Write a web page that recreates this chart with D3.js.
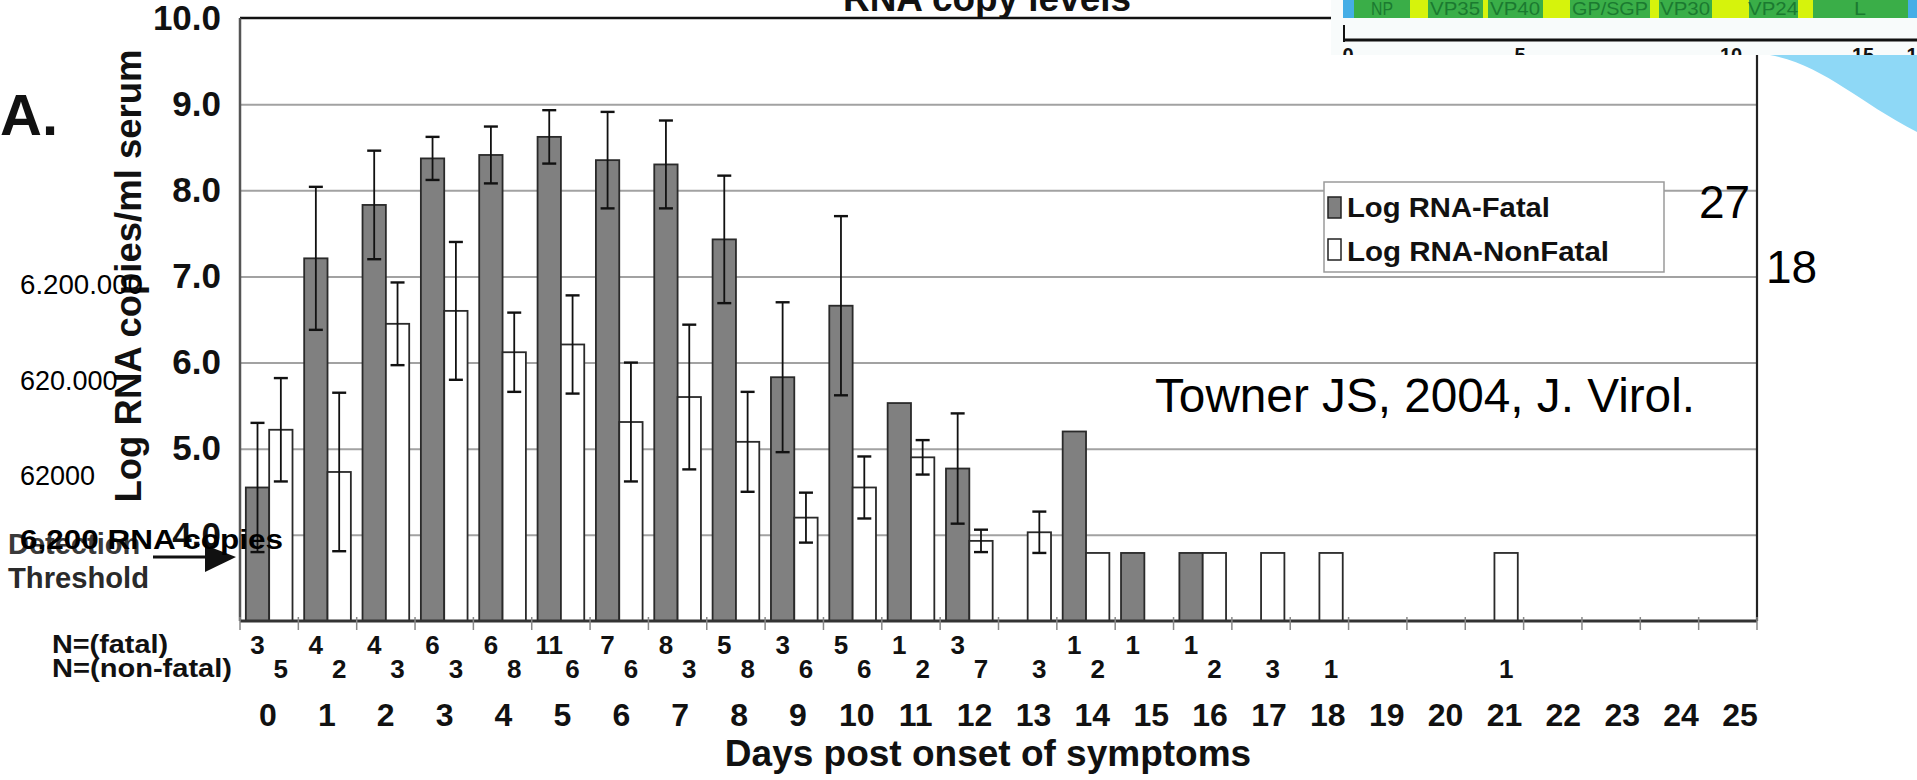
<!DOCTYPE html>
<html><head><meta charset="utf-8">
<script src="https://cdn.jsdelivr.net/npm/d3@7/dist/d3.min.js"></script>
<style>
html,body{margin:0;padding:0;background:#fff;}
svg{display:block;font-family:"Liberation Sans",Arial,Helvetica,sans-serif;}
</style>
</head><body>
<svg id="chart" width="1917" height="780"></svg>
<script>
// ---------------- data ----------------
const days = ["0","1","2","3","4","5","6","7","8","9","10","11","12","13","14","15","16","17","18","19","20","21","22","23","24","25"];
const fatalMean    = [4.55,7.21,7.83,8.37,8.41,8.62,8.35,8.30,7.43,5.83,6.66,5.53,4.77,null,5.20,3.79,3.79,null,null,null,null,null,null,null,null,null];
const fatalErr     = [0.75,0.83,0.63,0.25,0.33,0.31,0.56,0.51,0.74,0.87,1.04,0,0.64,0,0,0,0,0,0,0,0,0,0,0,0,0];
const nonFatalMean = [5.22,4.73,6.45,6.60,6.12,6.21,5.31,5.60,5.08,4.20,4.55,4.90,3.93,4.03,3.79,null,3.79,3.79,3.79,null,null,3.79,null,null,null,null];
const nonFatalErr  = [0.60,0.92,0.48,0.80,0.46,0.57,0.69,0.84,0.58,0.29,0.36,0.20,0.13,0.24,0,0,0,0,0,0,0,0,0,0,0,0];
const fatalN    = ["3","4","4","6","6","11","7","8","5","3","5","1","3","","1","1","1","","","","","","","","",""];
const nonFatalN = ["5","2","3","3","8","6","6","3","8","6","6","2","7","3","2","","2","3","1","","","1","","","",""];
const yTickValues = [4,5,6,7,8,9,10];
const gridValues  = [4,5,6,7,8,9];
const seriesNames = ["Log RNA-Fatal","Log RNA-NonFatal"];
const genes = ["NP","VP35","VP40","GP/SGP","VP30","VP24","L"];
const genomeTicks = ["0","5","10","15","1"];

// ---------------- setup ----------------
const svg = d3.select("#chart");
const pLeft = 240, pRight = 1757, pTop = 18, pBottom = 621;
const x = d3.scaleBand().domain(days).range([pLeft, pRight]).paddingInner(0.2).paddingOuter(0.1);
const xs = d3.scaleBand().domain(["fatal","nonfatal"]).range([0, x.bandwidth()]);
const y = d3.scaleLinear().domain([3,10]).range([pBottom, pTop]);
const xLab = d3.scalePoint().domain(days).range([268, 1740]);
const step = x.step();

const fatalColor = "#808080";

// gridlines
svg.append("g")
  .attr("transform", `translate(${pLeft},0)`)
  .call(d3.axisLeft(y).tickValues(gridValues).tickSize(-(pRight-pLeft)).tickFormat(""))
  .call(g => g.select(".domain").remove())
  .call(g => g.selectAll("line").attr("stroke","#a2a2a2").attr("stroke-width",2));

// bars
const bars = svg.append("g");
days.forEach((d,i) => {
  const recs = [
    {k:"fatal", v:fatalMean[i], fill:fatalColor},
    {k:"nonfatal", v:nonFatalMean[i], fill:"#ffffff"}
  ];
  recs.forEach(r => {
    if (r.v === null) return;
    bars.append("rect")
      .attr("x", x(d) + xs(r.k))
      .attr("y", y(r.v))
      .attr("width", xs.bandwidth())
      .attr("height", y(3) - y(r.v))
      .attr("fill", r.fill)
      .attr("stroke", "#2a2a2a")
      .attr("stroke-width", 1.8);
  });
});

// error bars
const eb = svg.append("g").attr("stroke","#111").attr("stroke-width",1.8);
days.forEach((d,i) => {
  [["fatal",fatalMean[i],fatalErr[i]],["nonfatal",nonFatalMean[i],nonFatalErr[i]]].forEach(([k,m,e]) => {
    if (m === null || !e) return;
    const cx = x(d) + xs(k) + xs.bandwidth()/2;
    const y1 = y(m+e), y2 = y(m-e);
    eb.append("line").attr("x1",cx).attr("x2",cx).attr("y1",y1).attr("y2",y2);
    eb.append("line").attr("x1",cx-7).attr("x2",cx+7).attr("y1",y1).attr("y2",y1).attr("stroke-width",2.4);
    eb.append("line").attr("x1",cx-7).attr("x2",cx+7).attr("y1",y2).attr("y2",y2).attr("stroke-width",2.4);
  });
});

// frame
svg.append("line").attr("x1",pLeft).attr("x2",pRight).attr("y1",y(10)).attr("y2",y(10)).attr("stroke","#111").attr("stroke-width",2.5);
svg.append("line").attr("x1",pRight).attr("x2",pRight).attr("y1",y(10)).attr("y2",pBottom).attr("stroke","#222").attr("stroke-width",2.2);
svg.append("line").attr("x1",pLeft).attr("x2",pLeft).attr("y1",y(10)).attr("y2",pBottom).attr("stroke","#555").attr("stroke-width",2.5);
svg.append("line").attr("x1",pLeft).attr("x2",pRight).attr("y1",pBottom).attr("y2",pBottom).attr("stroke","#333").attr("stroke-width",3);

// x tick marks at category boundaries
const bounds = days.map(d => x(d) - step*0.1).concat([x(days[days.length-1]) + x.bandwidth() + step*0.1]);
svg.append("g").selectAll("line").data(bounds).join("line")
  .attr("x1",b=>b).attr("x2",b=>b).attr("y1",pBottom-4).attr("y2",pBottom+9)
  .attr("stroke","#888").attr("stroke-width",1.5);

// y tick labels
svg.append("g")
  .attr("transform", `translate(${pLeft},0)`)
  .call(d3.axisLeft(y).tickValues(yTickValues).tickSize(0).tickPadding(19).tickFormat(d3.format(".1f")))
  .call(g => g.select(".domain").remove())
  .call(g => g.selectAll("text").attr("font-size",35).attr("font-weight","bold").attr("fill","#111")
        .attr("font-family","'Liberation Sans',Arial,sans-serif"));

// y axis title
svg.append("text")
  .attr("transform","translate(141,276) rotate(-90)")
  .attr("text-anchor","middle")
  .attr("font-size",37).attr("font-weight","bold").attr("fill","#111")
  .attr("textLength",453).attr("lengthAdjust","spacingAndGlyphs")
  .text("Log RNA copies/ml serum");

// "A."
svg.append("text").attr("x",0).attr("y",135).attr("font-size",58).attr("font-weight","bold").attr("fill","#111").text("A.");

// Day labels
svg.append("g").selectAll("text").data(days).join("text")
  .attr("x", d => xLab(d)).attr("y", 726)
  .attr("text-anchor","middle").attr("font-size",32).attr("font-weight","bold").attr("fill","#111")
  .text(d => d);

// N labels
svg.append("g").selectAll("text").data(days).join("text")
  .attr("x", d => x(d) + xs("fatal") + xs.bandwidth()/2).attr("y", 654)
  .attr("text-anchor","middle").attr("font-size",26).attr("font-weight","bold").attr("fill","#111")
  .text((d,i) => fatalN[i]);
svg.append("g").selectAll("text").data(days).join("text")
  .attr("x", d => x(d) + xs("nonfatal") + xs.bandwidth()/2).attr("y", 678)
  .attr("text-anchor","middle").attr("font-size",26).attr("font-weight","bold").attr("fill","#111")
  .text((d,i) => nonFatalN[i]);
svg.append("text").attr("x",52).attr("y",653).attr("font-size",26).attr("font-weight","bold").attr("fill","#111")
  .attr("textLength",116).attr("lengthAdjust","spacingAndGlyphs").text("N=(fatal)");
svg.append("text").attr("x",52).attr("y",677).attr("font-size",26).attr("font-weight","bold").attr("fill","#111")
  .attr("textLength",180).attr("lengthAdjust","spacingAndGlyphs").text("N=(non-fatal)");

// x axis title
svg.append("text").attr("x",988).attr("y",766).attr("text-anchor","middle")
  .attr("font-size",37).attr("font-weight","bold").attr("fill","#111").text("Days post onset of symptoms");

// legend
const lg = svg.append("g");
lg.append("rect").attr("x",1324).attr("y",182).attr("width",340).attr("height",90)
  .attr("fill","#fff").attr("stroke","#9a9a9a").attr("stroke-width",1.5);
const legFills = [fatalColor, "#ffffff"];
seriesNames.forEach((s,i) => {
  lg.append("rect").attr("x",1328).attr("y",197 + i*42).attr("width",13).attr("height",21)
    .attr("fill",legFills[i]).attr("stroke","#222").attr("stroke-width",1.5);
  lg.append("text").attr("x",1347).attr("y",217 + i*44).attr("font-size",28).attr("font-weight","bold").attr("fill","#111")
    .attr("textLength", i===0 ? 203 : 262).attr("lengthAdjust","spacingAndGlyphs").text(s);
});

// overlay annotations
svg.append("text").attr("x",1699).attr("y",218).attr("font-size",46).attr("fill","#000").text("27");
svg.append("text").attr("x",1766).attr("y",283).attr("font-size",46).attr("fill","#000").text("18");
svg.append("text").attr("x",1155).attr("y",412).attr("font-size",48).attr("fill","#000")
  .attr("textLength",540).attr("lengthAdjust","spacingAndGlyphs").text("Towner JS, 2004, J. Virol.");
svg.append("text").attr("x",20).attr("y",294).attr("font-size",27).attr("fill","#000")
  .attr("textLength",123).attr("lengthAdjust","spacingAndGlyphs").text("6.200.000");
svg.append("text").attr("x",20).attr("y",390).attr("font-size",27).attr("fill","#000").text("620.000");
svg.append("text").attr("x",20).attr("y",485).attr("font-size",27).attr("fill","#000").text("62000");

// detection threshold
svg.append("text").attr("x",8).attr("y",554).attr("font-size",29).attr("font-weight","bold").attr("fill","#3a3a3a").text("Detection");
svg.append("text").attr("x",8).attr("y",588).attr("font-size",29).attr("font-weight","bold").attr("fill","#2a2a2a")
  .attr("textLength",141).attr("lengthAdjust","spacingAndGlyphs").text("Threshold");
svg.append("line").attr("x1",153).attr("x2",212).attr("y1",557).attr("y2",557).attr("stroke","#111").attr("stroke-width",3);
svg.append("path").attr("d","M205,545 L236,557 L205,572 Z").attr("fill","#111");
svg.append("text").attr("x",20).attr("y",549).attr("font-size",28).attr("font-weight","bold").attr("fill","#000")
  .attr("textLength",263).attr("lengthAdjust","spacingAndGlyphs").text("6,200 RNA copies");

// top cut-off title
svg.append("text").attr("x",843).attr("y",11).attr("font-size",37).attr("font-weight","bold").attr("fill","#111")
  .attr("textLength",288).attr("lengthAdjust","spacingAndGlyphs").text("RNA copy levels");

// genome inset (top right)
const defs = svg.append("defs");
defs.append("clipPath").attr("id","insetClip").append("rect").attr("x",1331).attr("y",0).attr("width",586).attr("height",55);
const ins = svg.append("g").attr("clip-path","url(#insetClip)");
ins.append("rect").attr("x",1331).attr("y",0).attr("width",586).attr("height",55).attr("fill","#f8fbfb");
const segs = [
  [1343,1354,"#45aee6"],[1354,1410,"#3aae48"],[1410,1428,"#d6f30c"],[1428,1483,"#3aae48"],
  [1483,1488,"#d6f30c"],[1488,1543,"#3aae48"],[1543,1570,"#d6f30c"],[1570,1650,"#3aae48"],
  [1650,1659,"#d6f30c"],[1659,1712,"#3aae48"],[1712,1749,"#d6f30c"],[1749,1798,"#3aae48"],
  [1798,1813,"#d6f30c"],[1813,1908,"#3aae48"],[1908,1917,"#45aee6"]
];
segs.forEach(s => ins.append("rect").attr("x",s[0]).attr("y",0).attr("width",s[1]-s[0]).attr("height",18).attr("fill",s[2]));
const geneX = [1382,1455,1515,1610,1685,1773,1860];
const geneW = [22,50,50,76,50,50,12];
genes.forEach((g,i) => ins.append("text").attr("x",geneX[i]).attr("y",15).attr("text-anchor","middle")
  .attr("font-size",19).attr("fill","#1b7a30")
  .attr("textLength",geneW[i]).attr("lengthAdjust","spacingAndGlyphs").text(g));
ins.append("line").attr("x1",1343).attr("x2",1917).attr("y1",40).attr("y2",40).attr("stroke","#111").attr("stroke-width",3);
ins.append("line").attr("x1",1344).attr("x2",1344).attr("y1",25).attr("y2",42).attr("stroke","#111").attr("stroke-width",2);
const gtX = [1348,1520,1731,1863,1912];
genomeTicks.forEach((t,i) => ins.append("text").attr("x",gtX[i]).attr("y",62).attr("text-anchor","middle")
  .attr("font-size",20).attr("font-weight","bold").attr("fill","#111").text(t));

// blue wedge
svg.append("path").attr("d","M1770,55 C1825,66 1855,100 1917,132 L1917,55 Z").attr("fill","#8ed8f6");
</script>
</body></html>
